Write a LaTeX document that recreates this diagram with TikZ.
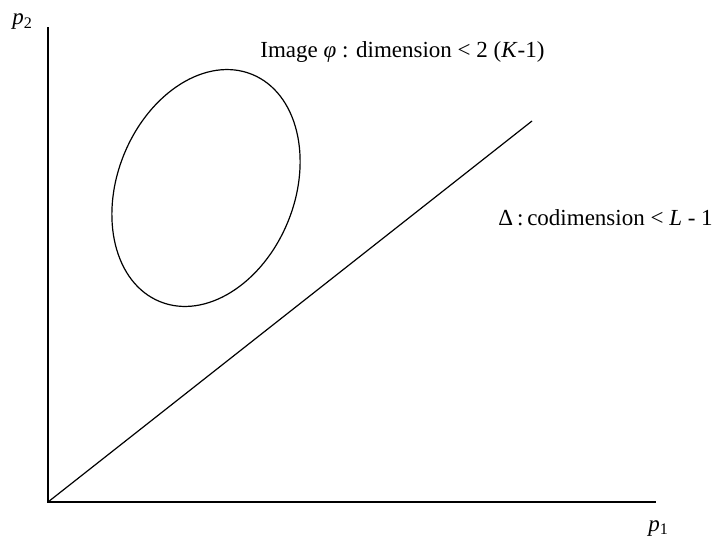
\documentclass[tikz,border=0pt]{standalone}
\usepackage{fontspec}
\setmainfont{Liberation Serif}
\begin{document}
\begin{tikzpicture}[x=0.5pt,y=0.5pt,font=\fontsize{11.5}{14}\selectfont]
  \useasboundingbox (0,0) rectangle (715,537);
  \coordinate (O) at (48,35);
  \coordinate (xend) at (656,35);
  \coordinate (yend) at (48,510);
  \coordinate (dend) at (532,416);
  \draw[line width=1pt] (yend) -- (O) -- (xend);
  \draw[line width=0.6pt] (O) -- (dend);
  \draw[line width=0.6pt,shift={(206,349)},rotate=68] (0,0) ellipse (61.3pt and 44.3pt);
  \node[anchor=base west,inner sep=0pt] (p2) at (12,512) {\textit{p}\textsubscript{2}};
  \node[anchor=base west,inner sep=0pt] (p1) at (648,6) {\textit{p}\textsubscript{1}};
  \node[anchor=base west,inner sep=0pt] (img) at (260,480) {Image \textit{φ} : dimension < 2 (\textit{K}-1)};
  \node[anchor=base west,inner sep=0pt] (delta) at (498,312) {Δ\,:\,codimension < \textit{L} - 1};
\end{tikzpicture}
\end{document}
